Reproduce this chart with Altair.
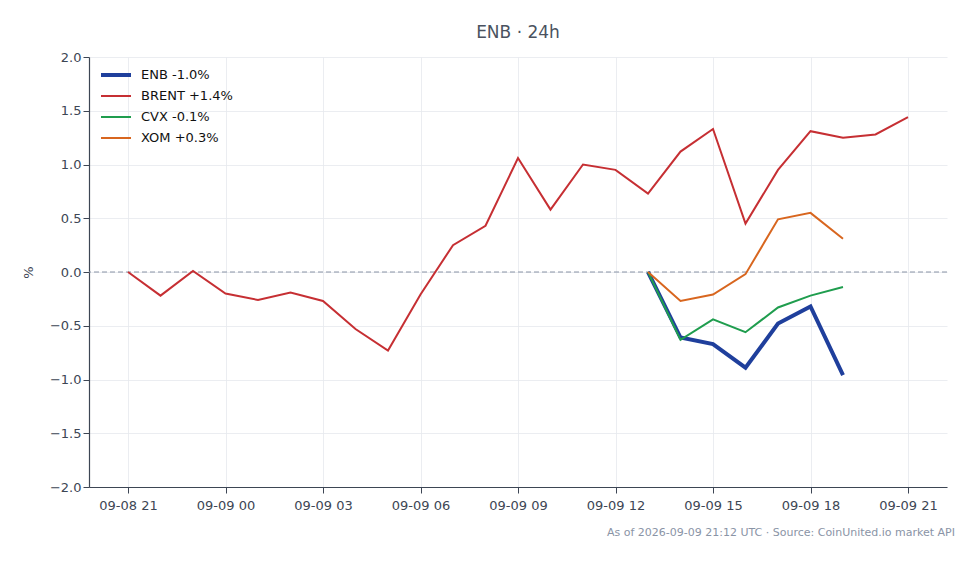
"""ENB 24h: variazione % contro BRENT e peer."""

import altair as alt
import pandas as pd

# Valori (variazione % dall'inizio della finestra)
BRENT_TIMES = pd.date_range("2026-09-08 21:00", periods=25, freq="h", tz="UTC")
BRENT = [0.00, -0.22, 0.01, -0.20, -0.26, -0.19, -0.27, -0.53, -0.73, -0.21,
         0.25, 0.43, 1.06, 0.58, 1.00, 0.95, 0.73, 1.12, 1.33, 0.45,
         0.95, 1.31, 1.25, 1.28, 1.44]
STOCK_TIMES = pd.date_range("2026-09-09 13:00", periods=7, freq="h", tz="UTC")
ENB = [0.00, -0.61, -0.67, -0.89, -0.48, -0.32, -0.96]
CVX = [0.00, -0.63, -0.44, -0.56, -0.33, -0.22, -0.14]
XOM = [0.00, -0.27, -0.21, -0.02, 0.49, 0.55, 0.31]

SERIES = ["ENB", "BRENT", "CVX", "XOM"]
COLORS = ["#1f3f9c", "#c62f33", "#1f9d4e", "#d8661f"]
WIDTHS = [4, 2, 2, 2]
FOOTER = "As of 2026-09-09 21:12 UTC · Source: CoinUnited.io market API"

INK = "#3d4654"
MUTED = "#8a94a6"
FONT = "DejaVu Sans"

frames = []
for name, times, vals in [("ENB", STOCK_TIMES, ENB), ("BRENT", BRENT_TIMES, BRENT),
                          ("CVX", STOCK_TIMES, CVX), ("XOM", STOCK_TIMES, XOM)]:
    label = f"{name} {vals[-1]:+.1f}%"
    frames.append(pd.DataFrame({"t": times, "pct": vals, "serie": label}))
df = pd.concat(frames, ignore_index=True)
labels = list(dict.fromkeys(df["serie"]))

tick_values = [alt.DateTime(year=2026, month=9, date=8 + (21 + 3 * i) // 24,
                            hours=(21 + 3 * i) % 24, utc=True) for i in range(9)]

x_scale = alt.Scale(
    type="utc",
    domain=[alt.DateTime(year=2026, month=9, date=8, hours=19, minutes=48, utc=True),
            alt.DateTime(year=2026, month=9, date=9, hours=22, minutes=12, utc=True)],
)

lines = (
    alt.Chart(df)
    .mark_line()
    .encode(
        x=alt.X("t:T", title=None, scale=x_scale,
                axis=alt.Axis(values=tick_values, labelPadding=6,
                              labelExpr="utcFormat(datum.value, '%m-%d %H')")),
        y=alt.Y("pct:Q", title="%", scale=alt.Scale(domain=[-2, 2]),
                axis=alt.Axis(values=[-2, -1.5, -1, -0.5, 0, 0.5, 1, 1.5, 2],
                              format=".1f", titlePadding=14)),
        color=alt.Color("serie:N", scale=alt.Scale(domain=labels, range=COLORS),
                        legend=alt.Legend(title=None)),
        strokeWidth=alt.StrokeWidth("serie:N",
                                    scale=alt.Scale(type="ordinal", domain=labels, range=WIDTHS),
                                    legend=alt.Legend(title=None)),
        detail="serie:N",
    )
)

zero = (
    alt.Chart(pd.DataFrame({"y": [0]}))
    .mark_rule(color=MUTED, strokeDash=[5, 3], strokeWidth=1)
    .encode(y="y:Q")
)

footer = (
    alt.Chart(pd.DataFrame({"txt": [FOOTER]}))
    .mark_text(align="right", baseline="middle", fontSize=11, color=MUTED, font=FONT)
    .encode(x=alt.value(866), y=alt.value(476), text="txt:N")
)

chart = (
    (zero + lines + footer)
    .properties(
        width=858, height=430,
        autosize=alt.AutoSizeParams(type="none"),
        padding={"left": 81, "top": 49, "right": 24, "bottom": 69},
        title=alt.TitleParams("ENB · 24h", fontSize=17, fontWeight="normal",
                              color="#4a5260", font=FONT, offset=9),
    )
    .configure_view(stroke=None)
    .configure_axis(
        labelFont=FONT, labelFontSize=13, labelColor=INK,
        titleFont=FONT, titleFontSize=13, titleColor=INK, titleFontWeight="normal",
        domainColor=INK, domainWidth=1.2, tickColor=INK, tickSize=6,
        gridColor="#e6e9ee", gridWidth=0.8,
    )
    .configure_legend(
        orient="top-left", offset=8, labelFont=FONT, labelFontSize=13, labelColor="#111111",
        symbolType="stroke", symbolSize=900, clipHeight=16, rowPadding=5,
        labelOffset=8, padding=2,
    )
)

chart.save("out.html", embed_options={"renderer": "svg", "actions": False})
